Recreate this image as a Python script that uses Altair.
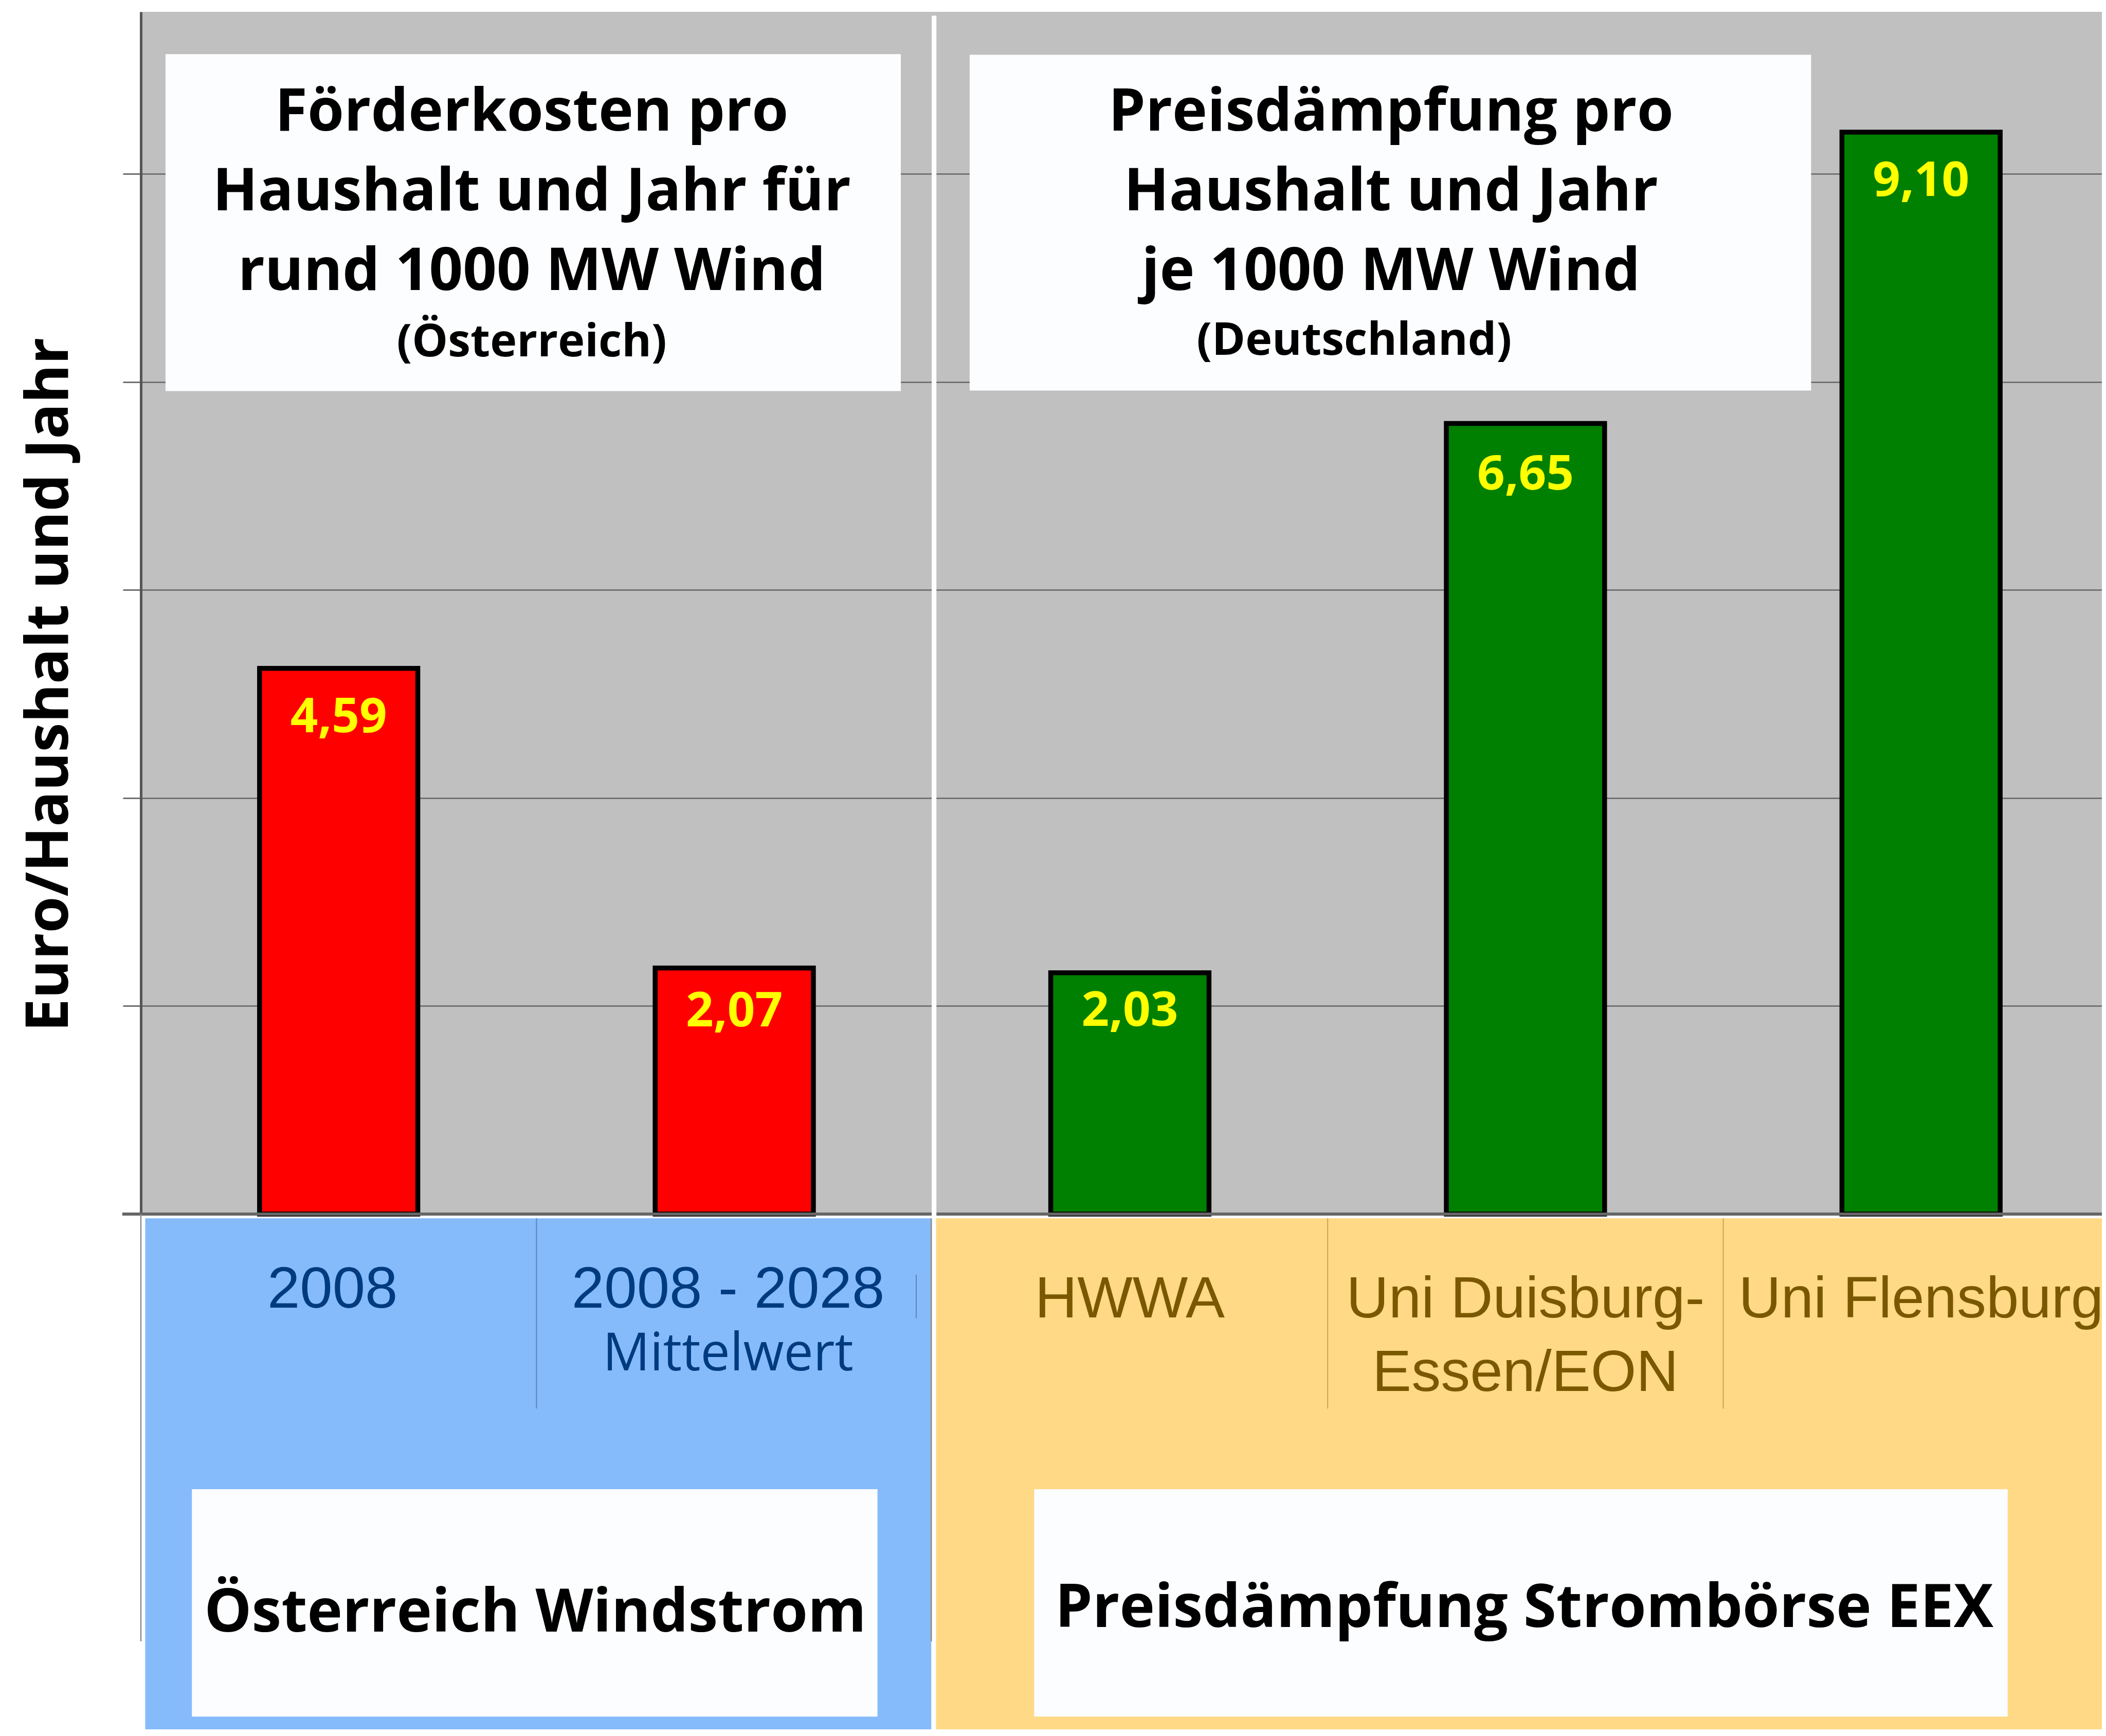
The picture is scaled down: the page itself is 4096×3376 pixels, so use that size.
import altair as alt
import pandas as pd

# ---------------- data ----------------
categories = ["2008", "2008 - 2028 Mittelwert", "HWWA", "Uni Duisburg-Essen/EON", "Uni Flensburg"]
values = [4.59, 2.07, 2.03, 6.65, 9.10]
value_labels = ["4,59", "2,07", "2,03", "6,65", "9,10"]
groups = ["AT", "AT", "DE", "DE", "DE"]
label_line1 = ["2008", "2008 - 2028", "HWWA", "Uni Duisburg-", "Uni Flensburg"]
label_line2 = ["", "Mittelwert", "", "Essen/EON", ""]
y_ticks = [0, 1.75, 3.5, 5.25, 7, 8.75]
y_title = "Euro/Haushalt und Jahr"
box_at_lines = ["Förderkosten pro", "Haushalt und Jahr für", "rund 1000 MW Wind"]
box_at_sub = "(Österreich)"
box_de_lines = ["Preisdämpfung pro", "Haushalt und Jahr", "je 1000 MW Wind"]
box_de_sub = "(Deutschland)"
group_titles = ["Österreich Windstrom", "Preisdämpfung Strombörse EEX"]

# ---------------- layout / style ----------------
PLOT_W = 3814
PLOT_H = 2338
STEP = 769.4
YMAX = 10.112
PX_PER_UNIT = PLOT_H / YMAX
PAD = {"left": 266, "top": 15, "right": 0, "bottom": 1002}
VALUE_LABEL_DY = [124, 114, 103, 129, 124]   # pixel offset of each value label below its bar top

GRAY_BG = "#c0c0c0"
BOX_WHITE = "#fcfdfe"
BLUE_PANEL = "#85bbfb"
YELLOW_PANEL = "#ffd985"
BLUE_TXT = "#003b7f"
BROWN_TXT = "#7a5800"
BOLD_FONT = "Open Sans"
ARIAL = "Liberation Sans"

x_band = alt.Scale(domain=categories, range=[0, 5 * STEP], paddingInner=0.6, paddingOuter=0.3)
x_slot = alt.Scale(domain=[0, 5], range=[0, 5 * STEP], nice=False, zero=False)
y_sc = alt.Scale(domain=[0, YMAX], nice=False, zero=False)

y_axis = alt.Axis(
    values=y_ticks, labels=False, ticks=True, tickSize=35, tickColor="#707070", tickWidth=3,
    domain=True, domainColor="#555555", domainWidth=5,
    grid=True, gridColor="#666666", gridWidth=2.5,
    title=y_title, titleFont=BOLD_FONT, titleFontWeight="bold", titleFontSize=115,
    titleColor="black", titleAngle=270, titleX=-143, titleY=1308,
    titleAlign="center", titleBaseline="alphabetic",
)


def XB(f):
    return alt.X(f"{f}:N", scale=x_band, axis=None)


def XS(f):
    return alt.X(f"{f}:Q", scale=x_slot, axis=None)


def YS(f):
    return alt.Y(f"{f}:Q", scale=y_sc, axis=y_axis)


bars_df = pd.DataFrame({"cat": categories, "val": values, "lab": value_labels, "grp": groups})
bars_df["lab_y"] = [v - d / PX_PER_UNIT for v, d in zip(values, VALUE_LABEL_DY)]

# ---------------- annotation geometry (slot units / value units) ----------------
panels_df = pd.DataFrame({
    "x0": [0.011, 2.010], "x1": [1.998, 5.5],
    "y0": [-0.036, -0.036], "y1": [-4.7, -4.7],
    "fill": [BLUE_PANEL, YELLOW_PANEL],
})
top_boxes_df = pd.DataFrame({
    "x0": [0.0623, 2.095], "x1": [1.921, 4.222],
    "y0": [6.922, 6.927], "y1": [9.756, 9.751],
})
bottom_boxes_df = pd.DataFrame({
    "x0": [0.129, 2.258], "x1": [1.862, 4.719],
    "y0": [-4.227, -4.227], "y1": [-2.314, -2.314],
})
sep_df = pd.DataFrame({
    "x": [1, 3, 4, 1.960],
    "y0": [-0.036, -0.036, -0.036, -0.510],
    "y1": [-1.636, -1.636, -1.636, -0.877],
    "col": ["#5a84b8", "#c9a45a", "#c9a45a", "#5a84b8"],
})
axis_ext_df = pd.DataFrame({"x": [0.0, 1.998], "y0": [0, -0.036], "y1": [-3.594, -3.594]})
baseline_df = pd.DataFrame({"x0": [-0.047], "x1": [5.5], "y": [0]})
white_sep_df = pd.DataFrame({"x0": [1.999], "x1": [2.011], "y0": [-0.036], "y1": [10.08]})

top_rows = []
for i, t in enumerate(box_at_lines):
    top_rows.append({"text": t, "x": 0.988, "y": 9.112 - i * 0.671})
for i, t in enumerate(box_de_lines):
    top_rows.append({"text": t, "x": 3.160, "y": 9.112 - i * 0.671})
top_text_df = pd.DataFrame(top_rows)
top_sub_df = pd.DataFrame({"text": [box_at_sub, box_de_sub], "x": [0.988, 3.067], "y": [7.216, 7.227]})
bottom_text_df = pd.DataFrame({"text": group_titles, "x": [0.997, 3.497], "y": [-3.510, -3.471]})

LABEL_Y = {("AT", 1): -0.787, ("AT", 2): -1.314, ("DE", 1): -0.871, ("DE", 2): -1.487}
rows = []
for c, g, l1, l2 in zip(categories, groups, label_line1, label_line2):
    for ln, t in ((1, l1), (2, l2)):
        if t:
            rows.append({"cat": c, "grp": g, "line": ln, "text": t, "y": LABEL_Y[(g, ln)]})
labels_df = pd.DataFrame(rows)

# ---------------- layers ----------------
panels = alt.Chart(panels_df).mark_rect().encode(
    x=XS("x0"), x2="x1", y=YS("y0"), y2="y1", color=alt.Color("fill:N", scale=None))

top_boxes = alt.Chart(top_boxes_df).mark_rect(color=BOX_WHITE).encode(
    x=XS("x0"), x2="x1", y=YS("y0"), y2="y1")

top_text = alt.Chart(top_text_df).mark_text(
    font=BOLD_FONT, fontWeight="bold", fontSize=115, color="black", align="center", baseline="alphabetic"
).encode(x=XS("x"), y=YS("y"), text="text:N")

top_sub = alt.Chart(top_sub_df).mark_text(
    font=BOLD_FONT, fontWeight="bold", fontSize=88, color="black", align="center", baseline="alphabetic"
).encode(x=XS("x"), y=YS("y"), text="text:N")

bars = alt.Chart(bars_df).mark_bar(stroke="black", strokeWidth=9.5).encode(
    x=XB("cat"),
    y=YS("val"),
    color=alt.Color("grp:N", scale=alt.Scale(domain=["AT", "DE"], range=["#ff0000", "#008000"]), legend=None),
)

value_text = alt.Chart(bars_df).mark_text(
    font=BOLD_FONT, fontWeight="bold", fontSize=94, color="#ffff00", align="center",
    baseline="alphabetic"
).encode(x=XB("cat"), y=YS("lab_y"), text="lab:N")

seps = alt.Chart(sep_df).mark_rule(strokeWidth=2).encode(
    x=XS("x"), y=YS("y0"), y2="y1", color=alt.Color("col:N", scale=None))

lab_at1 = alt.Chart(labels_df).transform_filter("datum.grp == 'AT' && datum.line == 1").mark_text(
    font=ARIAL, fontSize=114, color=BLUE_TXT, align="center", baseline="alphabetic", dx=-12
).encode(x=XB("cat"), y=YS("y"), text="text:N")

lab_at2 = alt.Chart(labels_df).transform_filter("datum.grp == 'AT' && datum.line == 2").mark_text(
    font=BOLD_FONT, fontSize=102, color=BLUE_TXT, align="center", baseline="alphabetic", dx=-12
).encode(x=XB("cat"), y=YS("y"), text="text:N")

lab_de = alt.Chart(labels_df).transform_filter("datum.grp == 'DE'").mark_text(
    font=ARIAL, fontSize=114, color=BROWN_TXT, align="center", baseline="alphabetic"
).encode(x=XB("cat"), y=YS("y"), text="text:N")

bottom_boxes = alt.Chart(bottom_boxes_df).mark_rect(color=BOX_WHITE).encode(
    x=XS("x0"), x2="x1", y=YS("y0"), y2="y1")

bottom_text = alt.Chart(bottom_text_df).mark_text(
    font=BOLD_FONT, fontWeight="bold", fontSize=116, color="black", align="center", baseline="alphabetic"
).encode(x=XS("x"), y=YS("y"), text="text:N")

baseline = alt.Chart(baseline_df).mark_rule(color="#666666", strokeWidth=6).encode(
    x=XS("x0"), x2="x1", y=YS("y"))

white_sep = alt.Chart(white_sep_df).mark_rect(color="white").encode(
    x=XS("x0"), x2="x1", y=YS("y0"), y2="y1")

axis_ext = alt.Chart(axis_ext_df).mark_rule(color="#8a8a8a", strokeWidth=2.5).encode(
    x=XS("x"), y=YS("y0"), y2="y1")

chart = alt.layer(
    panels, top_boxes, top_text, top_sub, bars, value_text, seps,
    lab_at1, lab_at2, lab_de, bottom_boxes, bottom_text, baseline, white_sep, axis_ext,
).resolve_scale(x="independent").properties(
    width=PLOT_W, height=PLOT_H,
    autosize=alt.AutoSizeParams(type="none"),
    padding=PAD,
    background="white",
).configure_view(fill=GRAY_BG, stroke="transparent", strokeWidth=0)

chart.save("out.html", embed_options={"renderer": "svg", "actions": False})
